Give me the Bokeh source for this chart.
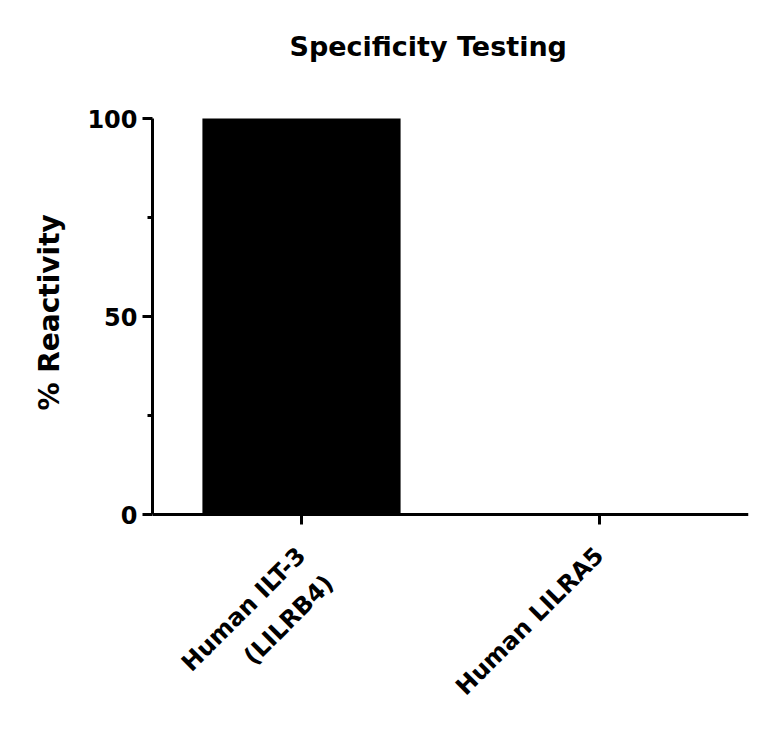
import math
from bokeh.plotting import figure
from bokeh.models import FixedTicker, Range1d, FactorRange, Title
from bokeh.core.properties import value
from bokeh.embed import file_html
from bokeh.resources import INLINE

# ---- data ----
categories = ["Human ILT-3", "Human LILRA5"]
reactivity = [100, 0]
second_line_category = ["Human ILT-3"]
second_line_text = ["(LILRB4)"]
y_ticks = [0, 50, 100]
y_minor = [25, 75]
title_text = "Specificity Testing"
y_title = "% Reactivity"

FONT = "DejaVu Sans"
W, H = 760, 726
FRAME_TOP = 89            # frame top (title panel above it)
Y100, Y0 = 118, 514       # pixel rows of 100 and 0
PX = (Y0 - Y100) / 100.0
Y_MAX = 100 + (Y100 - FRAME_TOP) / PX
Y_MIN = -(H - Y0) / PX    # frame extends below 0 for the category labels

p = figure(
    width=W, height=H,
    x_range=FactorRange(factors=categories, range_padding=0),
    y_range=Range1d(Y_MIN, Y_MAX),
    output_backend="svg", toolbar_location=None,
    min_border_left=152, min_border_right=12,
    min_border_top=0, min_border_bottom=0,
)
p.outline_line_color = None
p.xgrid.grid_line_color = None
p.ygrid.grid_line_color = None
p.background_fill_color = "white"
p.border_fill_color = "white"

p.vbar(x=categories, top=reactivity, width=0.665,
       fill_color="black", line_color=None)

# title
p.title.text = title_text
p.title.text_font = FONT
p.title.text_font_style = "bold"
p.title.text_font_size = "27px"
p.title.text_color = "black"
p.title.align = "left"
p.title.offset = 137
p.title.standoff = 56

# y axis
ya = p.yaxis[0]
ya.ticker = FixedTicker(ticks=y_ticks, minor_ticks=y_minor)
ya.bounds = (0, 100)
ya.axis_line_width = 3
ya.axis_line_color = "black"
ya.major_tick_line_width = 3
ya.minor_tick_line_width = 3
ya.major_tick_out = 10
ya.major_tick_in = 0
ya.minor_tick_out = 5
ya.minor_tick_in = 0
ya.major_label_text_font = FONT
ya.major_label_text_font_style = "bold"
ya.major_label_text_font_size = "24px"
ya.major_label_text_color = "black"
ya.major_label_standoff = 5

# y axis title, placed beside the 0-100 span
p.add_layout(Title(
    text=y_title, align="left", offset=316, standoff=37,
    text_font=FONT, text_font_style="bold", text_font_size="28px",
    text_color="black",
), "left")

# x axis at y = 0
xa = p.xaxis[0]
xa.fixed_location = 0
xa.axis_line_width = 3
xa.axis_line_color = "black"
xa.major_tick_line_width = 3
xa.major_tick_out = 10
xa.major_tick_in = 0
xa.minor_tick_line_color = None
xa.major_label_orientation = math.pi / 4
xa.major_label_text_font = FONT
xa.major_label_text_font_style = "bold"
xa.major_label_text_font_size = "24px"
xa.major_label_text_color = "black"
xa.major_label_standoff = 27

# second line of the first category label
p.text(x=second_line_category, y=[-55 / PX], text=second_line_text,
       x_offset=[18], angle=math.pi / 4, text_align="right", text_baseline="top",
       text_font=value(FONT), text_font_style="bold",
       text_font_size="24px", text_color="black")

open("out.html", "w").write(file_html(p, INLINE))
